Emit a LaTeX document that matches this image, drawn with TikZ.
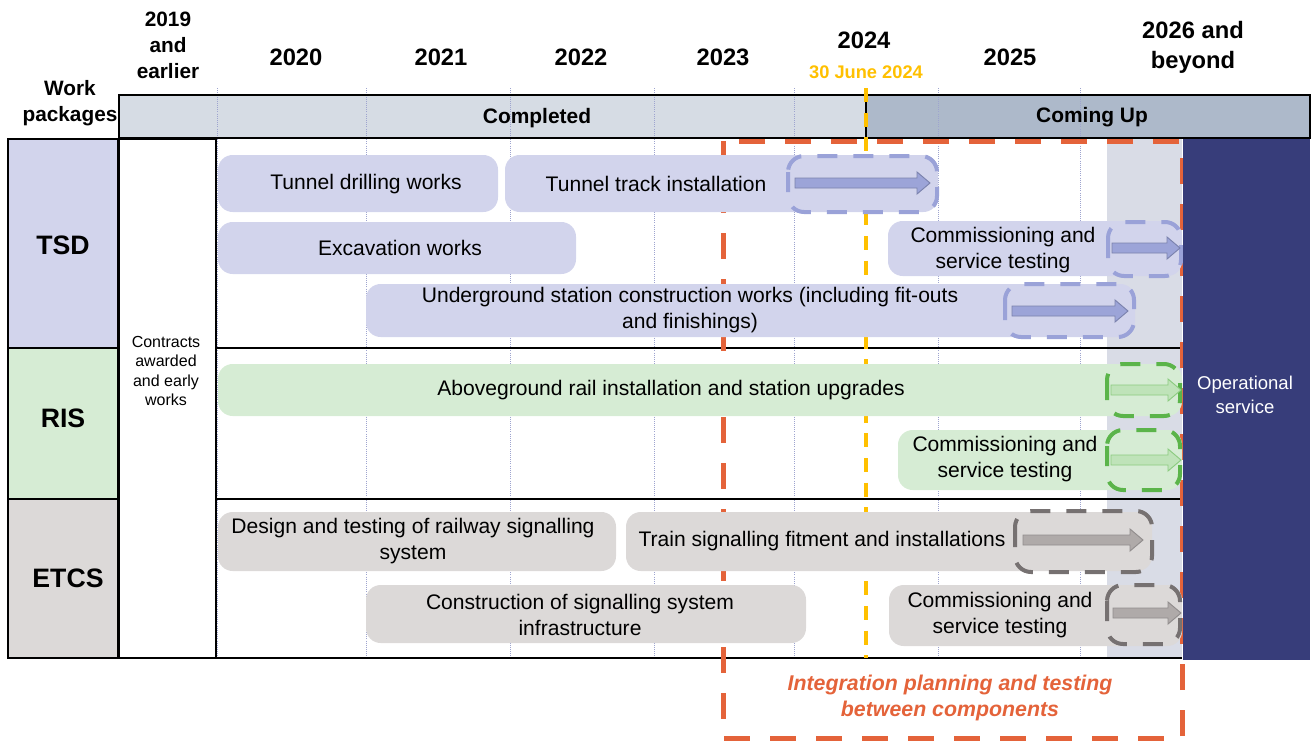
\documentclass[tikz,border=0pt]{standalone}
\usepackage{fontspec}
\setmainfont{Liberation Sans}
\definecolor{tsdfill}{HTML}{D2D4EC}
\definecolor{risfill}{HTML}{D6ECD4}
\definecolor{etcsfill}{HTML}{DCD9D8}
\definecolor{tsdline}{HTML}{9AA2D8}
\definecolor{risline}{HTML}{5BB44A}
\definecolor{etcsline}{HTML}{767171}
\definecolor{tsdarr}{HTML}{9CA4D8}
\definecolor{risarr}{HTML}{BFE3B9}
\definecolor{etcsarr}{HTML}{AFAAA9}
\definecolor{doneband}{HTML}{D6DCE4}
\definecolor{nextband}{HTML}{ADB9CA}
\definecolor{shadecol}{HTML}{D9DCE6}
\definecolor{opsfill}{HTML}{373D7A}
\definecolor{intcol}{HTML}{E4633A}
\definecolor{cutcol}{HTML}{FFC000}
\definecolor{yrline}{HTML}{9EA4CF}
\newcommand\fs[2]{\fontsize{#1}{#2}\selectfont}
\newcommand\wpbar[5]{\fill[#1,rounded corners=11pt] (#2,#3) rectangle (#4,#5);}
\newcommand\wparrow[4]{\filldraw[#1] (#2,#4-5) -- (#3-13,#4-5) -- (#3-13,#4-11) -- (#3,#4) -- (#3-13,#4+11) -- (#3-13,#4+5) -- (#2,#4+5) -- cycle;}
\tikzset{
  grid/.style={draw=black,line width=1.1pt},
  yearline/.style={draw=yrline,line width=0.6pt,densely dotted},
  hdr/.style={font=\fs{15.6}{19.5}\bfseries,align=center},
  yr/.style={font=\fs{17.8}{22.5}\bfseries,align=center},
  band/.style={font=\fs{15.7}{19}\bfseries},
  pkg/.style={font=\fs{20}{24}\bfseries},
  txt/.style={font=\fs{15.8}{19.5},align=center,inner sep=0pt},
  boxdash/.style={line width=3pt,dash pattern=on 15pt off 12pt,rounded corners=12pt},
  tsddash/.style={boxdash,draw=tsdline},
  risdash/.style={boxdash,draw=risline},
  etcsdash/.style={boxdash,draw=etcsline},
  tsdarrow/.style={fill=tsdarr,draw=tsdline!80!black,line width=0.7pt},
  risarrow/.style={fill=risarr,draw=risline!70,line width=0.7pt},
  etcsarrow/.style={fill=etcsarr,draw=etcsline!80,line width=0.7pt},
  intbox/.style={draw=intcol,line width=3.75pt,dash pattern=on 19.5pt off 15pt},
  cutoff/.style={draw=cutcol,line width=2.4pt,dash pattern=on 10.5pt off 8pt}
}
\begin{document}
\begin{tikzpicture}[x=0.75pt,y=-0.75pt]
\useasboundingbox (0,0) rectangle (1312,742);
\fill[doneband] (119,95) rectangle (866,138);
\fill[nextband] (866,95) rectangle (1310,138);
\fill[shadecol] (1107,139) rectangle (1182,658);
\foreach \x in {217,366,510,654,794,938,1080} \draw[yearline] (\x,88) -- (\x,658);
\draw[grid] (119,95) rectangle (1310,138) (866,95) -- (866,138);
\draw[grid,fill=tsdfill] (8,139) rectangle (118,348);
\draw[grid,fill=risfill] (8,348) rectangle (118,499);
\draw[grid,fill=etcsfill] (8,499) rectangle (118,658);
\draw[grid] (216,348) -- (1182,348) (216,499) -- (1182,499) (118,658) -- (1182,658);
\draw[grid,line width=2pt] (119,139) rectangle (216,658);
\draw[intbox] (723,141) rectangle (1182,738);
\draw[cutoff] (866,88) -- (866,658);

\wpbar{tsdfill}{218}{155}{498}{212}
\wpbar{tsdfill}{505}{155}{938}{212}
\wpbar{tsdfill}{218}{222}{576}{274}
\wpbar{tsdfill}{888}{221}{1182}{276}
\wpbar{tsdfill}{366}{284}{1135}{337}
\wpbar{risfill}{218}{364}{1182}{416}
\wpbar{risfill}{898}{430}{1182}{490}
\wpbar{etcsfill}{218}{512}{616}{571}
\wpbar{etcsfill}{626}{512}{1152}{571}
\wpbar{etcsfill}{366}{585}{806}{643}
\wpbar{etcsfill}{889}{585}{1182}{646}

\draw[tsddash] (788,156) rectangle (937,212);
\draw[tsddash] (1108,222) rectangle (1181,276);
\draw[tsddash] (1005,284) rectangle (1134,337);
\draw[risdash] (1107,364) rectangle (1180,416);
\draw[risdash] (1107,430) rectangle (1180,490);
\draw[etcsdash] (1015,511) rectangle (1152,572);
\draw[etcsdash] (1107,585) rectangle (1180,644);
\wparrow{tsdarrow}{795}{930}{183}
\wparrow{tsdarrow}{1112}{1180}{248}
\wparrow{tsdarrow}{1012}{1128}{311}
\wparrow{risarrow}{1111}{1181}{390}
\wparrow{risarrow}{1111}{1181}{460}
\wparrow{etcsarrow}{1023}{1143}{540}
\wparrow{etcsarrow}{1113}{1181}{613}
\fill[opsfill] (1183,139) rectangle (1310,660);

\node[hdr] (wp) at (70,103) {Work\\packages};
\node[hdr] (early) at (168,45) {2019\\and\\earlier};
\node[yr] (y20) at (296,57) {2020};
\node[yr] (y21) at (441,57) {2021};
\node[yr] (y22) at (581,57) {2022};
\node[yr] (y23) at (723,57) {2023};
\node[yr] (y24) at (864,40) {2024};
\node[yr] (y25) at (1010,57) {2025};
\node[yr] (y26) at (1193,47) {2026 and\\beyond};
\node[font=\fs{13.7}{16}\bfseries,text=cutcol] (jun) at (866,72) {30 June 2024};
\node[band] (done) at (537,118) {Completed};
\node[band] (next) at (1092,117) {Coming Up};
\node[pkg] (tsd) at (63,245) {TSD};
\node[pkg] (ris) at (63,418) {RIS};
\node[pkg] (etcs) at (68,578) {ETCS};
\node[font=\fs{12}{14.6},align=center] (cw) at (166,371) {Contracts\\awarded\\and early\\works};
\node[font=\fs{13.9}{18},text=white,align=center] (ops) at (1245,395) {Operational\\service};
\node[font=\fs{16}{19.5}\bfseries\itshape,text=intcol,align=center] (int) at (950,698) {Integration planning and testing\\between components};

\node[txt] (drill) at (366,184) {Tunnel drilling works};
\node[txt] (track) at (656,184) {Tunnel track installation};
\node[txt] (exc) at (400,248) {Excavation works};
\node[txt] (tsdcs) at (1003,250) {Commissioning and\\service testing};
\node[txt] (ugs) at (690,310) {Underground station construction works (including fit-outs\\and finishings)};
\node[txt] (agr) at (671,390) {Aboveground rail installation and station upgrades};
\node[txt] (riscs) at (1005,459) {Commissioning and\\service testing};
\node[txt] (sig) at (413,541) {Design and testing of railway signalling\\system};
\node[txt] (fit) at (822,541) {Train signalling fitment and installations};
\node[txt] (inf) at (580,615) {Construction of signalling system\\infrastructure};
\node[txt] (etcscs) at (1000,615) {Commissioning and\\service testing};
\end{tikzpicture}
\end{document}
